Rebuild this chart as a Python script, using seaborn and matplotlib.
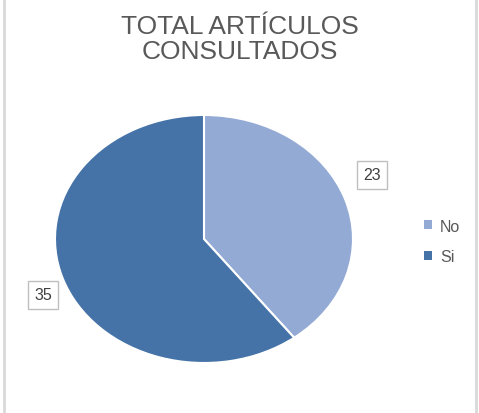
import numpy as np
import seaborn as sns
import matplotlib.pyplot as plt
from matplotlib.patches import Patch
from matplotlib.lines import Line2D

categorias = ["No", "Si"]
valores = [23, 35]
cores = ["#93aad4", "#4573a8"]
titulo = "TOTAL ARTÍCULOS\nCONSULTADOS"

sns.set_theme(style="white")
plt.rcParams['font.family'] = ['Liberation Sans', 'DejaVu Sans']

fig = plt.figure(figsize=(4.79, 4.14), dpi=100)
ax = fig.add_axes([55/479, 1 - 364/414, 298/479, 248/414])

wedges, _ = ax.pie(valores, colors=cores, startangle=90, counterclock=False,
                   wedgeprops=dict(edgecolor="white", linewidth=1.5))
ax.set_aspect("auto")
ax.set_xlim(-1, 1)
ax.set_ylim(-1, 1)

# etiquetas com caixa, posicionadas a partir do ângulo médio de cada fatia
ajustes = [(1.24, 6), (1.17, 4)]  # (distância, desvio em graus)
for w, v, (dist, desvio) in zip(wedges, valores, ajustes):
    ang = np.deg2rad((w.theta1 + w.theta2) / 2 + desvio)
    ax.text(dist * np.cos(ang), dist * np.sin(ang), str(v), ha="center", va="center",
            fontsize=11.5, color="#404040",
            bbox=dict(boxstyle="square,pad=0.4", fc="white", ec="#bfbfbf", lw=1))

fig.text(0.5, 0.905, titulo, ha="center", va="center", fontsize=19,
         color="#595959", linespacing=1.05)

handles = [Patch(facecolor=c, edgecolor="none") for c in cores]
fig.legend(handles, categorias, loc="center left", bbox_to_anchor=(0.855, 0.415),
           frameon=False, fontsize=11.5, labelcolor="#595959",
           handlelength=0.5, handleheight=0.5, handletextpad=0.5, labelspacing=0.95)

# bordas laterais do gráfico
for x in (3.5/479, 476/479):
    fig.add_artist(Line2D([x, x], [0, 1], color="#d9d9d9", lw=2, transform=fig.transFigure))

plt.savefig("out.png", dpi=100)
